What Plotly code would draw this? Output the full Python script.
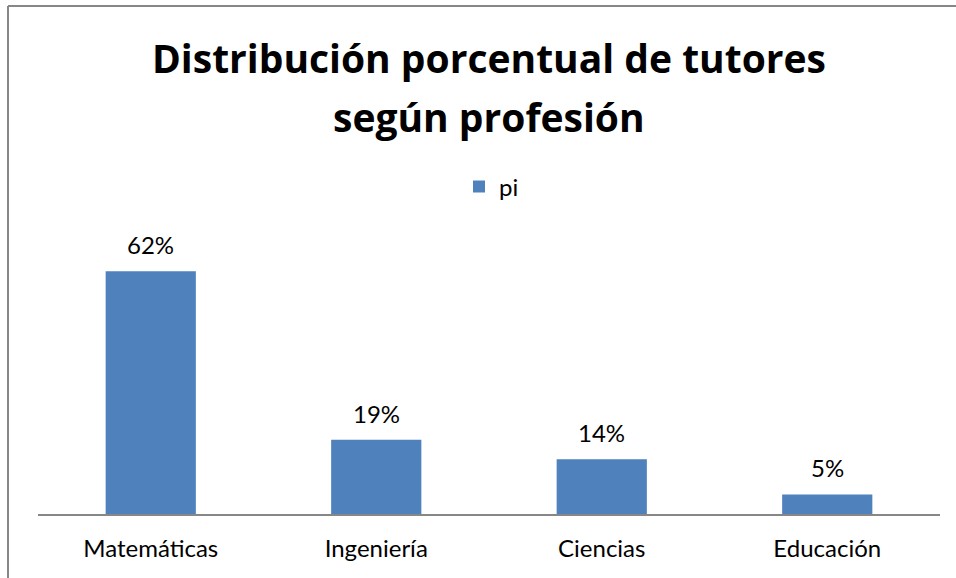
import plotly.graph_objects as go

# data
categorias = ["Matemáticas", "Ingeniería", "Ciencias", "Educación"]
pi = [0.62, 0.19, 0.14, 0.05]
etiquetas = ["62%", "19%", "14%", "5%"]
titulo = ["Distribución porcentual de tutores", "según profesión"]

FONT = "Lato"
TITLE_FONT = "Open Sans"
BLUE = "#4f81bd"
GRAY = "#878787"

W, H = 956, 578
L, R, T, B = 38, 16, 240, 64
plot_w = W - L - R
plot_h = H - T - B


def px_x(x):
    return (x - L) / plot_w


def px_y(y):
    return (H - B - y) / plot_h


fig = go.Figure()
fig.add_trace(
    go.Bar(
        x=categorias,
        y=pi,
        name="pi",
        marker=dict(color=BLUE, line=dict(width=0)),
        width=0.4,
        showlegend=True,
    )
)

# value labels above the bars
for cat, val, lab in zip(categorias, pi, etiquetas):
    fig.add_annotation(
        x=cat, y=val, text=lab, showarrow=False,
        xanchor="center", yanchor="bottom", yshift=10,
        font=dict(family=FONT, size=24, color="#000000"),
    )

# two-line title, drawn as annotations to control the line spacing
for line, ypix in zip(titulo, [57, 116]):
    fig.add_annotation(
        text="<b>" + line + "</b>", xref="paper", yref="paper",
        x=px_x(489), y=px_y(ypix), xanchor="center", yanchor="middle",
        showarrow=False,
        font=dict(family=TITLE_FONT, size=39, color="#000000"),
    )

fig.update_layout(
    width=W,
    height=H,
    margin=dict(l=L, r=R, t=T, b=B),
    paper_bgcolor="white",
    plot_bgcolor="white",
    font=dict(family=FONT, color="#000000"),
    legend=dict(
        orientation="h",
        x=px_x(459),
        xanchor="left",
        y=px_y(187),
        yanchor="middle",
        font=dict(family=FONT, size=24),
        itemsizing="constant",
        itemwidth=30,
    ),
    showlegend=True,
)

fig.update_xaxes(
    showline=True,
    linecolor=GRAY,
    linewidth=2,
    ticks="",
    tickfont=dict(family=FONT, size=24),
    ticklabelstandoff=12,
    showgrid=False,
    zeroline=False,
)
fig.update_yaxes(
    range=[0, 0.70],
    visible=False,
    showgrid=False,
    zeroline=False,
)

# chart border (only the top and left edges show in the reference crop)
fig.add_shape(
    type="line", xref="paper", yref="paper",
    x0=px_x(8), x1=px_x(960), y0=px_y(6), y1=px_y(6),
    line=dict(color=GRAY, width=2),
)
fig.add_shape(
    type="line", xref="paper", yref="paper",
    x0=px_x(8), x1=px_x(8), y0=px_y(6), y1=px_y(590),
    line=dict(color=GRAY, width=2),
)

fig.write_html(
    "out.html",
    config={"displayModeBar": False},
    post_script="document.body.style.margin='0';",
)
